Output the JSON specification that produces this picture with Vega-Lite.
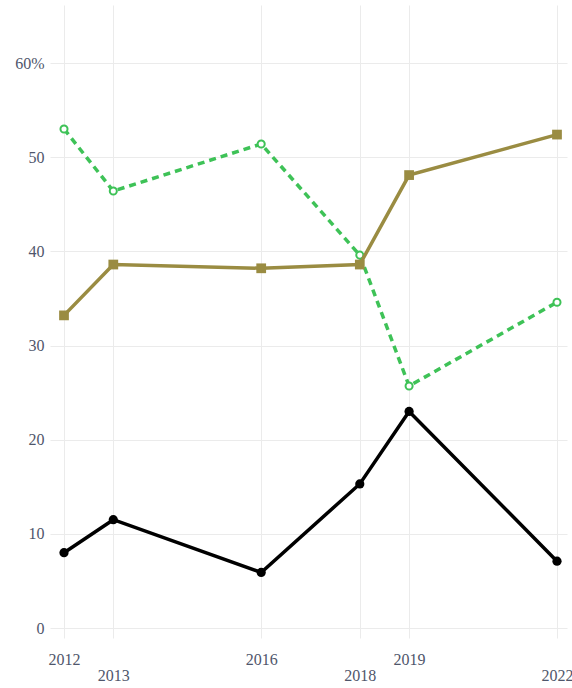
{
  "$schema": "https://vega.github.io/schema/vega-lite/v6.json",
  "width": 517,
  "height": 633,
  "autosize": {"type": "none"},
  "padding": {"left": 50, "top": 5, "right": 5, "bottom": 50},
  "background": "white",
  "config": {
    "view": {"stroke": null},
    "axis": {"labelFont": "Liberation Serif", "labelFontSize": 16, "labelColor": "#4f566b", "gridColor": "#ebebeb", "gridWidth": 1, "domain": false, "ticks": false, "title": null}
  },
  "data": {"values": [
    {"year": 2012, "series": "A", "value": 8.0},
    {"year": 2013, "series": "A", "value": 11.5},
    {"year": 2016, "series": "A", "value": 5.9},
    {"year": 2018, "series": "A", "value": 15.3},
    {"year": 2019, "series": "A", "value": 23.0},
    {"year": 2022, "series": "A", "value": 7.1},
    {"year": 2012, "series": "B", "value": 33.2},
    {"year": 2013, "series": "B", "value": 38.6},
    {"year": 2016, "series": "B", "value": 38.2},
    {"year": 2018, "series": "B", "value": 38.6},
    {"year": 2019, "series": "B", "value": 48.1},
    {"year": 2022, "series": "B", "value": 52.4},
    {"year": 2012, "series": "C", "value": 53.0},
    {"year": 2013, "series": "C", "value": 46.4},
    {"year": 2016, "series": "C", "value": 51.4},
    {"year": 2018, "series": "C", "value": 39.6},
    {"year": 2019, "series": "C", "value": 25.7},
    {"year": 2022, "series": "C", "value": 34.6}
  ]},
  "encoding": {
    "x": {"field": "year", "type": "quantitative",
      "scale": {"domain": [2011.716, 2022.203], "nice": false, "zero": false},
      "axis": {"values": [2012, 2013, 2016, 2018, 2019, 2022], "format": "d", "labelBaseline": "top",
        "labelPadding": {"expr": "indexof([2013, 2018, 2022], datum.value) >= 0 ? 29 : 13"}, "labelFlush": false, "labelOverlap": false}},
    "y": {"field": "value", "type": "quantitative",
      "scale": {"domain": [-1.06, 66.16], "nice": false, "zero": false},
      "axis": {"values": [0, 10, 20, 30, 40, 50, 60], "labelExpr": "datum.value == 60 ? '60%' : datum.label", "labelPadding": 6, "labelFlush": false, "labelOverlap": false}}
  },
  "layer": [
    {"transform": [{"filter": "datum.series == 'A'"}], "mark": {"type": "line", "color": "#000000", "strokeWidth": 3.5}},
    {"transform": [{"filter": "datum.series == 'A'"}], "mark": {"type": "point", "shape": "circle", "filled": true, "color": "#000000", "size": 85, "opacity": 1}},
    {"transform": [{"filter": "datum.series == 'C'"}], "mark": {"type": "line", "color": "#3ec257", "strokeWidth": 3.5, "strokeDash": [7, 5]}},
    {"transform": [{"filter": "datum.series == 'C'"}], "mark": {"type": "point", "shape": "circle", "filled": true, "fill": "white", "stroke": "#3ec257", "strokeWidth": 2, "size": 50, "opacity": 1}},
    {"transform": [{"filter": "datum.series == 'B'"}], "mark": {"type": "line", "color": "#9a8c42", "strokeWidth": 3.5}},
    {"transform": [{"filter": "datum.series == 'B'"}], "mark": {"type": "point", "shape": "square", "filled": true, "color": "#9a8c42", "size": 95, "opacity": 1}}
  ]
}
